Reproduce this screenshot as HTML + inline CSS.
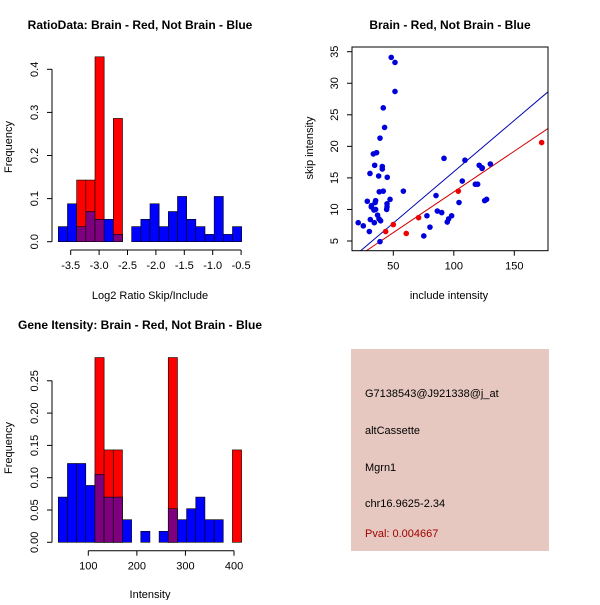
<!DOCTYPE html>
<html><head><meta charset="utf-8"><style>
body{margin:0;background:#fff}
svg text{font-family:"Liberation Sans",sans-serif;fill:#000}
</style></head><body>
<svg id="c" width="600" height="600" xmlns="http://www.w3.org/2000/svg">
<rect width="600" height="600" fill="#fff"/>
<g id="p1"></g>
<g id="p2"></g>
<g id="p3"></g>
<g>
<rect x="351" y="349" width="198" height="202" fill="#e6c8c0"/>
<text x="365" y="397" font-size="11">G7138543@J921338@j_at</text>
<text x="365" y="434" font-size="11">altCassette</text>
<text x="365" y="471" font-size="11">Mgrn1</text>
<text x="365" y="507" font-size="11">chr16.9625-2.34</text>
<text x="365" y="537" font-size="11" fill="#a00000" style="fill:#a00000">Pval: 0.004667</text>
</g>
</svg>
<script>
// Ratio histogram data
const ratioBinStart = -3.718;
const ratioBinWidth = 0.1614;
const ratioBlue = [0.035,0.088,0.035,0.070,0.052,0.052,0.017,0,0.035,0.052,0.088,0.035,0.070,0.105,0.052,0.035,0.017,0.105,0.017,0.035];
const ratioRed = [0,0,0.143,0.143,0.429,0,0.286,0,0,0,0,0,0,0,0,0,0,0,0,0];
const ratioXTicks = [-3.5,-3.0,-2.5,-2.0,-1.5,-1.0,-0.5];
const ratioYTicks = [0.0,0.1,0.2,0.3,0.4];
// Intensity histogram data
const intBinStart = 38.2;
const intBinWidth = 18.87;
const intBlue = [0.070,0.122,0.122,0.088,0.105,0.070,0.070,0.035,0,0.017,0,0.017,0.052,0.035,0.052,0.070,0.035,0.035,0,0];
const intRed = [0,0,0,0,0.286,0.143,0.143,0,0,0,0,0,0.286,0,0,0,0,0,0,0.143];
const intXTicks = [100,200,300,400];
const intYTicks = [0.00,0.05,0.10,0.15,0.20,0.25];
// Scatter data
const blueX = [21,25.2,28.5,30.2,30.7,31,31.8,32,33.5,34,34.3,34.6,35,35.4,35.4,36.2,37,37.9,38.2,38.4,39,39,39.5,40.9,40.9,41.7,41.7,42.8,44.5,44.8,44.8,45,47.3,48.3,51.4,51.4,58.3,75.2,77.8,80.3,85.3,86.4,90,91.9,94.6,95.7,98.2,104.3,107,109.2,117.8,119.7,121,123.3,123.5,125.5,127.1,130.2];
const blueY = [7.9,7.4,11.3,6.5,15.7,8.4,10.4,10.6,18.8,9.9,7.9,17.0,11.1,11.4,10.0,19.0,9.1,15.3,8.5,12.8,4.9,21.3,8.2,16.8,16.4,26.1,12.9,23.0,10.0,10.4,10.9,15.1,11.6,34.1,33.3,28.7,12.9,5.8,9.0,7.2,12.2,9.75,9.5,18.1,8.0,8.5,9.0,11.1,14.5,17.8,14.0,14.0,17.0,16.5,16.6,11.4,11.6,17.2];
const redX = [43.7,50,60.7,70.9,103.7,172.6];
const redY = [6.5,7.6,6.2,8.7,12.9,20.6];
const blueFit = [-0.29,0.1627];
const redFit = [-0.12,0.129];
const scXTicks = [50,100,150];
const scYTicks = [5,10,15,20,25,30,35];

const NS="http://www.w3.org/2000/svg";
function mk(parent,tag,attrs){const e=document.createElementNS(NS,tag);for(const k in attrs)e.setAttribute(k,attrs[k]);parent.appendChild(e);return e;}
function txt(parent,x,y,s,size,opts){const t=mk(parent,'text',{x:x,y:y,'font-size':size,'text-anchor':'middle'});if(opts&&opts.bold)t.setAttribute('font-weight','bold');if(opts&&opts.rot)t.setAttribute('transform','rotate(-90 '+x+' '+y+')');t.textContent=s;return t;}

function hist(g,o){
  const xs=v=>o.x0+(v-o.xv0)*o.xk, ys=v=>o.y0-v*o.yk;
  for(let i=0;i<o.blue.length;i++){
    const a=o.start+i*o.width,b=a+o.width;
    const x=xs(a),w=xs(b)-xs(a);
    const bv=o.blue[i],rv=o.red[i];
    if(bv>0){const r=mk(g,'rect',{x:x,y:ys(bv),width:w,height:ys(0)-ys(bv),fill:'#0000ff',stroke:'#000','stroke-width':0.6});
      }
    if(rv>0){const r=mk(g,'rect',{x:x,y:ys(rv),width:w,height:ys(0)-ys(rv),fill:'#ff0000',stroke:'#000','stroke-width':0.6});
      }
    if(bv>0&&rv>0){const m=Math.min(bv,rv);const r=mk(g,'rect',{x:x,y:ys(m),width:w,height:ys(0)-ys(m),fill:'#7f007f',stroke:'#000','stroke-width':0.6});
      }
  }
  const xa=mk(g,'g',{});
  mk(xa,'line',{x1:xs(o.xt[0]),x2:xs(o.xt[o.xt.length-1]),y1:o.xAxisY,y2:o.xAxisY,stroke:'#000'});
  o.xt.forEach(t=>{mk(xa,'line',{x1:xs(t),x2:xs(t),y1:o.xAxisY,y2:o.xAxisY+5,stroke:'#000'});txt(xa,xs(t),o.xAxisY+19,o.xfmt(t),11);});
  const ya=mk(g,'g',{});
  mk(ya,'line',{x1:o.yAxisX,x2:o.yAxisX,y1:ys(o.yt[0]),y2:ys(o.yt[o.yt.length-1]),stroke:'#000'});
  o.yt.forEach(t=>{mk(ya,'line',{x1:o.yAxisX,x2:o.yAxisX-5,y1:ys(t),y2:ys(t),stroke:'#000'});txt(ya,o.yAxisX-14,ys(t),o.yfmt(t),11,{rot:true});});
}

const p1=document.getElementById('p1');
hist(p1,{x0:70.7,xv0:-3.5,xk:56.8,y0:241.7,yk:431,start:ratioBinStart,width:ratioBinWidth,blue:ratioBlue,red:ratioRed,
  xt:ratioXTicks,yt:ratioYTicks,xAxisY:250,yAxisX:52,xfmt:t=>t.toFixed(1),yfmt:t=>t.toFixed(1)});
let t=txt(p1,140,29,'RatioData: Brain - Red, Not Brain - Blue',12,{bold:true});
t=txt(p1,150,299,'Log2 Ratio Skip/Include',11);
t=txt(p1,12,147,'Frequency',11,{rot:true});

const p3=document.getElementById('p3');
hist(p3,{x0:88.3,xv0:100,xk:0.4857,y0:542.3,yk:646,start:intBinStart,width:intBinWidth,blue:intBlue,red:intRed,
  xt:intXTicks,yt:intYTicks,xAxisY:550.7,yAxisX:52,xfmt:t=>String(t),yfmt:t=>t.toFixed(2)});
t=txt(p3,140,329,'Gene Itensity: Brain - Red, Not Brain - Blue',12,{bold:true});
t=txt(p3,150,598,'Intensity',11);
t=txt(p3,12,448,'Frequency',11,{rot:true});

const p2=document.getElementById('p2');
const L=352,R=548,T=47,B=250.7;
const sx=v=>393.3+(v-50)*1.21, sy=v=>51.7+(35-v)*6.31;
const cp=mk(p2,'clipPath',{id:'clip'});mk(cp,'rect',{x:L,y:T,width:R-L,height:B-T});
const lines=mk(p2,'g',{'clip-path':'url(#clip)'});
function fit(f,col,name){const l=mk(lines,'line',{x1:sx(0),y1:sy(f[0]),x2:sx(200),y2:sy(f[0]+f[1]*200),stroke:col,'stroke-width':1});
  }
fit(blueFit,'#0000b0','blue-fit-line');fit(redFit,'#d00000','red-fit-line');
const pts=mk(p2,'g',{'clip-path':'url(#clip)'});
blueX.forEach((x,i)=>{const c=mk(pts,'circle',{cx:sx(x),cy:sy(blueY[i]),r:2.8,fill:'#0000dd'});
  });
redX.forEach((x,i)=>{const c=mk(pts,'circle',{cx:sx(x),cy:sy(redY[i]),r:2.8,fill:'#ee0000'});
  });
const box=mk(p2,'rect',{x:L,y:T,width:R-L,height:B-T,fill:'none',stroke:'#000'});

const sxa=mk(p2,'g',{});
scXTicks.forEach(v=>{mk(sxa,'line',{x1:sx(v),x2:sx(v),y1:B,y2:B+5,stroke:'#000'});txt(sxa,sx(v),B+19,String(v),11);});
const sya=mk(p2,'g',{});
scYTicks.forEach(v=>{mk(sya,'line',{x1:L,x2:L-5,y1:sy(v),y2:sy(v),stroke:'#000'});txt(sya,L-14,sy(v),String(v),11,{rot:true});});
t=txt(p2,450,29,'Brain - Red, Not Brain - Blue',12,{bold:true});
t=txt(p2,449,299,'include intensity',11);
t=txt(p2,313,148,'skip intensity',11,{rot:true});
</script>
</body></html>
